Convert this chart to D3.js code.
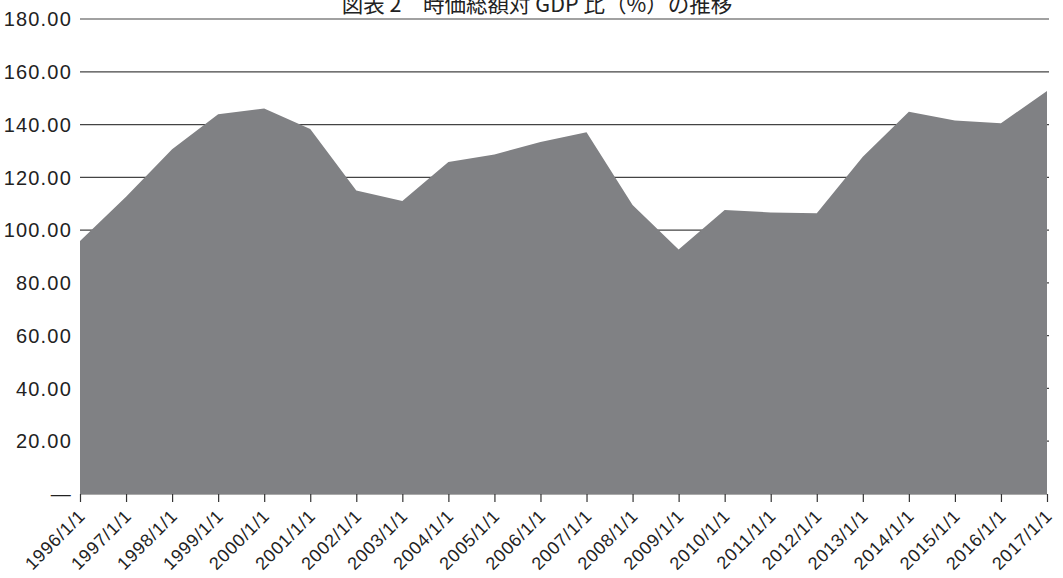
<!DOCTYPE html>
<html>
<head>
<meta charset="utf-8">
<script src="https://cdn.jsdelivr.net/npm/d3@7"></script>
<style>
  html, body { margin: 0; padding: 0; background: #fff; }
  svg { display: block; }
  .num { font-family: "Liberation Sans", Arial, sans-serif; fill: #222; }
</style>
</head>
<body>
<svg id="chart" width="1063" height="578"></svg>
<script>
// Market capitalisation to GDP ratio (%), by year
const dates = ["1996/1/1","1997/1/1","1998/1/1","1999/1/1","2000/1/1","2001/1/1","2002/1/1",
  "2003/1/1","2004/1/1","2005/1/1","2006/1/1","2007/1/1","2008/1/1","2009/1/1","2010/1/1",
  "2011/1/1","2012/1/1","2013/1/1","2014/1/1","2015/1/1","2016/1/1","2017/1/1"];
const ratios = [95.9, 112.6, 130.6, 143.9, 146.1, 138.3, 115.0, 111.0, 125.8, 128.7, 133.4,
  137.1, 109.5, 92.7, 107.6, 106.7, 106.4, 127.8, 144.9, 141.5, 140.5, 152.7];
const yTicks = [0, 20, 40, 60, 80, 100, 120, 140, 160, 180];
const title = "図表 2　時価総額対 GDP 比（%）の推移";

const svg = d3.select("#chart");
const plotLeft = 80, plotRight = 1047, plotTop = 19, plotBottom = 494;

const x = d3.scalePoint().domain(dates).range([plotLeft, plotRight]);
const y = d3.scaleLinear().domain([0, 180]).range([plotBottom, plotTop]);

// gridlines
svg.append("g")
  .selectAll("line")
  .data(yTicks.filter(d => d > 0))
  .join("line")
  .attr("x1", plotLeft).attr("x2", plotRight + 2)
  .attr("y1", d => y(d)).attr("y2", d => y(d))
  .attr("stroke", "#444").attr("stroke-width", 1.2);

// area
const area = d3.area()
  .x((d, i) => x(dates[i]))
  .y0(y(0))
  .y1(d => y(d));
svg.append("path")
  .datum(ratios)
  .attr("d", area)
  .attr("fill", "#808184");

// y labels
svg.append("g")
  .selectAll("text")
  .data(yTicks)
  .join("text")
  .attr("class", "num")
  .attr("x", 72)
  .attr("y", d => y(d))
  .attr("dy", "0.36em")
  .attr("text-anchor", "end")
  .attr("font-size", 20)
  .attr("letter-spacing", 1.2)
  .text(d => d === 0 ? "—" : d.toFixed(2));

// x axis
const xAxis = d3.axisBottom(x).tickSize(8).tickSizeOuter(0);
const gx = svg.append("g").attr("transform", `translate(0,${plotBottom})`).call(xAxis);
gx.select(".domain").attr("stroke", "#aaa").attr("stroke-width", 1);
gx.selectAll(".tick line").attr("stroke", "#333").attr("stroke-width", 1.2);
gx.selectAll(".tick text")
  .attr("class", "num")
  .attr("font-size", 18)
  .attr("letter-spacing", 0.8)
  .attr("fill", "#222")
  .attr("text-anchor", "end")
  .attr("dy", null)
  .attr("y", 0)
  .attr("transform", "translate(6,23) rotate(-45)");

// title
svg.append("text")
  .attr("x", 537)
  .attr("y", 12)
  .attr("text-anchor", "middle")
  .attr("font-family", "'Noto Sans CJK JP', sans-serif")
  .attr("font-size", 21.5)
  .attr("fill", "#222")
  .text(title);
</script>
</body>
</html>
